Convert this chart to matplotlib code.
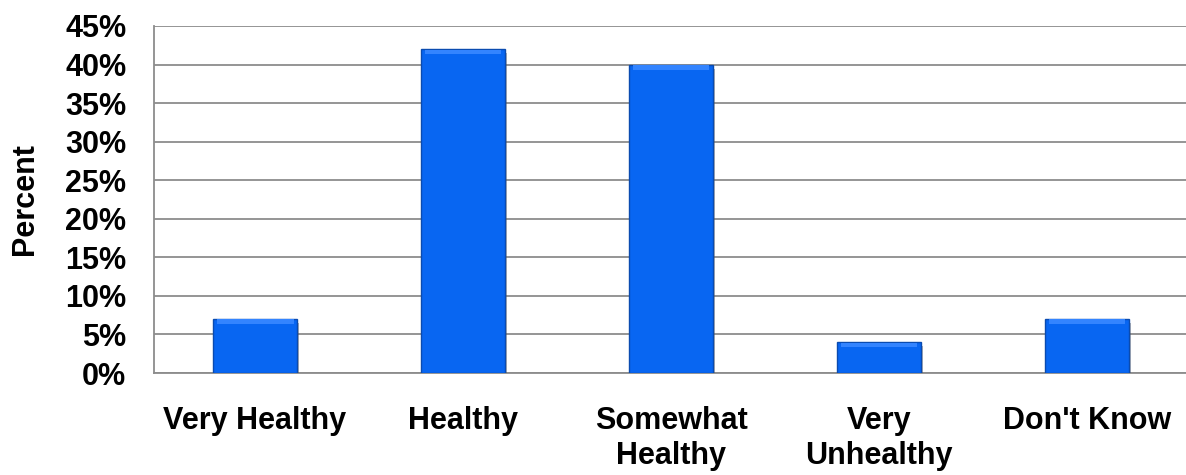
import matplotlib.pyplot as plt
import matplotlib.patheffects as pe
from matplotlib.ticker import MultipleLocator, FuncFormatter

# Datos
categorias = ["Very Healthy", "Healthy", "Somewhat\nHealthy", "Very\nUnhealthy", "Don't Know"]
porcentajes = [7, 42, 40, 4, 7]

plt.rcParams['font.family'] = ['Liberation Sans', 'DejaVu Sans']
plt.rcParams['font.weight'] = 'bold'

fig = plt.figure(figsize=(11.86, 4.75), dpi=100)
ax = fig.add_axes([0.1298, 0.2147, 0.8702, 0.7306])

x = range(len(categorias))
barras = ax.bar(x, porcentajes, width=0.4, color='#0866F2', edgecolor='#0A4BB0',
                linewidth=1.0, zorder=3)
for b in barras:
    b.set_path_effects([pe.SimplePatchShadow(offset=(2, -3), shadow_rgbFace='#555555', alpha=0.45),
                        pe.Normal()])

# brillo superior (bisel)
ax.bar(x, [0.6] * len(porcentajes), bottom=[p - 0.65 for p in porcentajes], width=0.37,
       color='#3384FF', linewidth=0, zorder=4)

ax.set_ylim(0, 45)
ax.set_xlim(-0.486, 4.476)
ax.yaxis.set_major_locator(MultipleLocator(5))
ax.yaxis.set_major_formatter(FuncFormatter(lambda v, p: f"{int(v)}%"))
ax.grid(axis='y', color='#8C8C8C', linewidth=1.3, zorder=0)
ax.set_axisbelow(True)

for lado in ['top', 'right']:
    ax.spines[lado].set_visible(False)
for lado in ['left', 'bottom']:
    ax.spines[lado].set_color('#8C8C8C')
    ax.spines[lado].set_linewidth(1.3)

ax.set_xticks(list(x))
ax.set_xticklabels(categorias, fontsize=22, fontweight='bold', linespacing=1.2)
ax.tick_params(axis='x', length=0, pad=24)
ax.tick_params(axis='y', length=0, pad=20, labelsize=22)
for t in ax.get_yticklabels():
    t.set_fontweight('bold')

ax.set_ylabel("Percent", fontsize=22, fontweight='bold')
ax.yaxis.set_label_coords(-0.11, 0.5)

fig.savefig("out.png", dpi=100)
